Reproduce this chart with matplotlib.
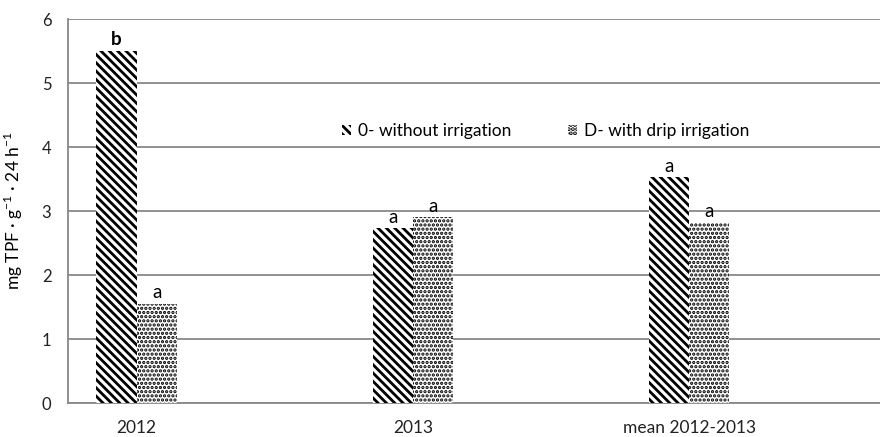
import matplotlib
matplotlib.use("Agg")
import matplotlib.pyplot as plt
import numpy as np

categories = ["2012", "2013", "mean 2012-2013"]
without_irr = [5.50, 2.73, 3.53]
drip_irr = [1.55, 2.90, 2.82]
labels_without = ["b", "a", "a"]
labels_drip = ["a", "a", "a"]
series_names = ["0- without irrigation", "D- with drip irrigation"]
yticks = [0, 1, 2, 3, 4, 5, 6]

plt.rcParams['font.family'] = ['Lato', 'DejaVu Sans']
plt.rcParams['hatch.linewidth'] = 2.0

fig = plt.figure(figsize=(8.8, 4.37), dpi=100)
ax = fig.add_axes([68/880, 1-403/437, (880-68)/880, (403-19)/437])

x = np.arange(len(categories))
w = 0.145
b1 = ax.bar(x - w/2, without_irr, w, color='white', edgecolor='black', linewidth=0,
            hatch='\\\\\\\\', label=series_names[0], zorder=3)
b2 = ax.bar(x + w/2, drip_irr, w, color='white', edgecolor='black', linewidth=0,
            hatch='....', label=series_names[1], zorder=3)
for p in b2.patches:
    p.set_hatch_linewidth(1.6)

for xi, v, t in zip(x - w/2, without_irr, labels_without):
    ax.text(xi, v + 0.04, t, ha='center', va='bottom', fontsize=13.5,
            fontweight='bold' if t == 'b' else 'normal')
for xi, v, t in zip(x + w/2, drip_irr, labels_drip):
    ax.text(xi, v + 0.04, t, ha='center', va='bottom', fontsize=13.5)

ax.set_ylim(0, 6)
ax.set_xlim(-0.248, 2.69)
ax.set_yticks(yticks)
ax.set_yticklabels([str(t) for t in yticks], fontsize=12, color='#222222')
ax.set_xticks(x)
ax.set_xticklabels(categories, fontsize=12.5, color='#222222')
ax.tick_params(length=0, pad=12, axis='x')
ax.tick_params(length=0, pad=12, axis='y')
ax.yaxis.grid(True, color='#888888', linewidth=1.3, zorder=0)
ax.set_axisbelow(True)
for s in ['top', 'right']:
    ax.spines[s].set_visible(False)
for s in ['left', 'bottom']:
    ax.spines[s].set_color('#888888')
    ax.spines[s].set_linewidth(1.3)

ax.set_ylabel("mg TPF · g$^{\\mathregular{-1}}$ · 24 h$^{\\mathregular{-1}}$", fontsize=12.5, labelpad=12)

leg = ax.legend(loc='center left', bbox_to_anchor=((342-68)/812, (403-131)/384), ncol=2,
                frameon=False, fontsize=12.5, handlelength=0.5, handleheight=0.5,
                handletextpad=0.4, columnspacing=3.3, borderpad=0, borderaxespad=0)

fig.savefig("out.png", dpi=100)
